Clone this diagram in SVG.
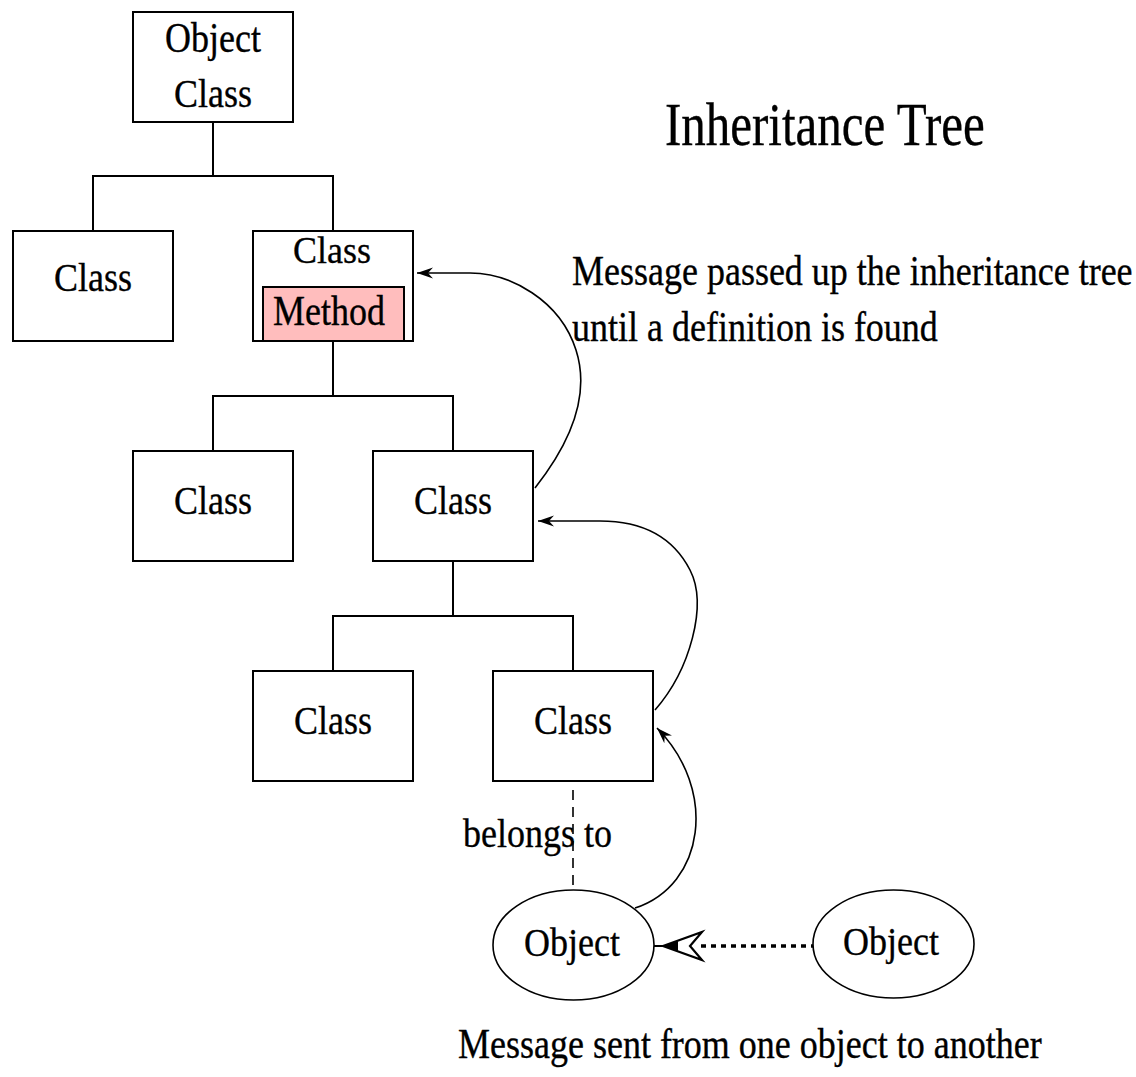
<svg xmlns="http://www.w3.org/2000/svg" width="1136" height="1077" viewBox="0 0 1136 1077">
  <style>
    .box { fill: #ffffff; stroke: #000000; stroke-width: 2; }
    .method { fill: #ffbdbd; stroke: #000000; stroke-width: 2; }
    .oval { fill: #ffffff; stroke: #000000; stroke-width: 1.6; }
    .tree { fill: none; stroke: #000000; stroke-width: 2; }
    .curve { fill: none; stroke: #000000; stroke-width: 1.6; }
    .dash { fill: none; stroke: #000000; stroke-width: 1.6; stroke-dasharray: 10 7; }
    .dots { fill: none; stroke: #000000; stroke-width: 3.5; stroke-dasharray: 5 5; }
    text { font-family: "Liberation Serif", "Times New Roman", serif; font-size: 36px; fill: #000000; stroke: #000000; stroke-width: 0.3; }
    .c { text-anchor: middle; }
    .title { font-size: 49px; }
  </style>
  <defs>
    <!-- filled head, tip at the end of the path -->
    <marker id="head" viewBox="0 0 16 12" refX="16" refY="6" markerWidth="16" markerHeight="12" markerUnits="userSpaceOnUse" orient="auto">
      <path d="M16,6 L0,0.5 L5,6 L0,11.5 Z" fill="#000000"/>
    </marker>
  </defs>
  <rect width="1136" height="1077" fill="#ffffff"/>

  <!-- tree connectors and message arrows -->
  <g id="connectors">
    <path class="tree" d="M213,122 V176 M93,231 V176 H333 V231"/>
    <path class="tree" d="M333,341 V396 M213,451 V396 H453 V451"/>
    <path class="tree" d="M453,561 V616 M333,671 V616 H573 V671"/>
    <path class="dash" d="M573,790 V891"/>
    <path class="curve" d="M635,908 C705,885 718,790 657,728" marker-end="url(#head)"/>
    <path class="curve" d="M655,710 C690,670 708,605 690,570 C672,535 640,521 600,521 L538,521" marker-end="url(#head)"/>
    <path class="curve" d="M535,488 C565,450 592,400 576,350 C560,300 510,273 470,273 L417,273" marker-end="url(#head)"/>
    <path class="dots" d="M701,946 H813"/>
    <path d="M654,946 H664" stroke="#000000" stroke-width="2"/>
    <path d="M663,946 L702,932 L690,946 L702,960 Z" fill="#ffffff" stroke="#000000" stroke-width="2.2" stroke-linejoin="miter"/>
    <path d="M663,946 L678,941 L678,951 Z" fill="#000000"/>
  </g>

  <g id="object-class">
    <rect class="box" x="133" y="12" width="160" height="110"/>
    <text class="c" transform="translate(213,52) scale(1,1.2)">Object</text>
    <text class="c" transform="translate(213,107) scale(1,1.1)">Class</text>
  </g>
  <g id="class-a">
    <rect class="box" x="13" y="231" width="160" height="110"/>
    <text class="c" transform="translate(93,291) scale(1,1.1)">Class</text>
  </g>
  <g id="class-b">
    <rect class="box" x="253" y="231" width="160" height="110"/>
    <text class="c" transform="translate(332,263) scale(1,1.05)">Class</text>
    <rect class="method" x="263" y="287" width="141" height="54"/>
    <text class="c" transform="translate(329,325) scale(1,1.2)">Method</text>
  </g>
  <g id="class-c">
    <rect class="box" x="133" y="451" width="160" height="110"/>
    <text class="c" transform="translate(213,514) scale(1,1.1)">Class</text>
  </g>
  <g id="class-d">
    <rect class="box" x="373" y="451" width="160" height="110"/>
    <text class="c" transform="translate(453,514) scale(1,1.1)">Class</text>
  </g>
  <g id="class-e">
    <rect class="box" x="253" y="671" width="160" height="110"/>
    <text class="c" transform="translate(333,734) scale(1,1.1)">Class</text>
  </g>
  <g id="class-f">
    <rect class="box" x="493" y="671" width="160" height="110"/>
    <text class="c" transform="translate(573,734) scale(1,1.1)">Class</text>
  </g>
  <g id="object-a">
    <ellipse class="oval" cx="573.5" cy="945" rx="80.5" ry="55"/>
    <text class="c" transform="translate(572,956) scale(1,1.1)">Object</text>
  </g>
  <g id="object-b">
    <ellipse class="oval" cx="893.5" cy="944" rx="80.5" ry="54"/>
    <text class="c" transform="translate(891,955) scale(1,1.1)">Object</text>
  </g>

  <g id="labels">
    <text class="title" transform="translate(665,145) scale(1,1.25)">Inheritance Tree</text>
    <text transform="translate(572,285) scale(1,1.15)">Message passed up the inheritance tree</text>
    <text transform="translate(572,341) scale(1,1.15)">until a definition is found</text>
    <text transform="translate(463,847) scale(1,1.1)">belongs to</text>
    <text transform="translate(458,1058) scale(1,1.15)">Message sent from one object to another</text>
  </g>
</svg>
